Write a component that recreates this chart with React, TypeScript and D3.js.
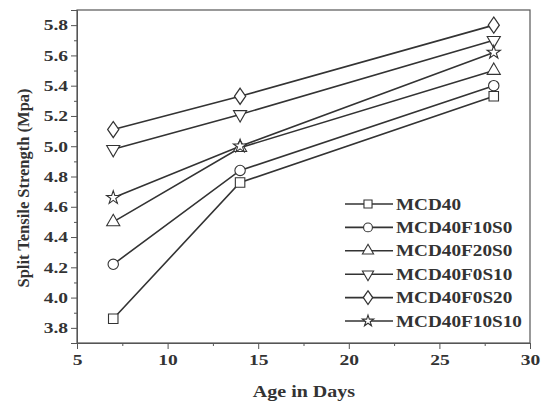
import React, { useEffect, useRef } from 'react';
import * as d3 from 'd3';

const days = [7, 14, 28];
const seriesNames = ['MCD40', 'MCD40F10S0', 'MCD40F20S0', 'MCD40F0S10', 'MCD40F0S20', 'MCD40F10S10'];
const mcd40 = [3.86, 4.76, 5.33];
const mcd40f10s0 = [4.22, 4.84, 5.4];
const mcd40f20s0 = [4.5, 4.99, 5.5];
const mcd40f0s10 = [4.98, 5.21, 5.7];
const mcd40f0s20 = [5.11, 5.33, 5.8];
const mcd40f10s10 = [4.66, 5.0, 5.62];
const xTicks = [5, 10, 15, 20, 25, 30];
const yTicks = [3.8, 4.0, 4.2, 4.4, 4.6, 4.8, 5.0, 5.2, 5.4, 5.6, 5.8];

const seriesValues = [mcd40, mcd40f10s0, mcd40f20s0, mcd40f0s10, mcd40f0s20, mcd40f10s10];
const markerTypes = ['square', 'circle', 'up', 'down', 'diamond', 'star'];

function App() {
  const ref = useRef<SVGSVGElement>(null);

  useEffect(() => {
    const W = 541, H = 406;
    const margin = { top: 10, right: 11, bottom: 63, left: 77 };
    const width = W - margin.left - margin.right;
    const height = H - margin.top - margin.bottom;
    const ink = '#333';
    const font = '"Liberation Serif", "Times New Roman", serif';

    const svg = d3.select(ref.current);
    svg.selectAll('*').remove();
    const g = svg.append('g').attr('transform', `translate(${margin.left},${margin.top})`);

    // the source picture is wider than its type: stretch text horizontally
    const stretch = (sel: any, k: number) => sel.each(function (this: SVGTextElement) {
      const len = this.getComputedTextLength();
      d3.select(this).attr('textLength', len * k).attr('lengthAdjust', 'spacingAndGlyphs');
    });

    const x = d3.scaleLinear().domain([5, 30]).range([0, width]);
    const y = d3.scaleLinear().domain([3.7, 5.9]).range([height, 0]);

    // frame
    g.append('rect').attr('width', width).attr('height', height)
      .attr('fill', 'none').attr('stroke', '#555').attr('stroke-width', 1.2);

    // x axis
    const xa = g.append('g').attr('transform', `translate(0,${height})`)
      .call(d3.axisBottom(x).tickValues(xTicks).tickSize(6).tickPadding(5).tickFormat(d3.format('d')));
    g.append('g').attr('transform', `translate(0,${height})`)
      .call(d3.axisBottom(x).tickValues([7.5, 12.5, 17.5, 22.5, 27.5]).tickSize(3).tickFormat(() => ''))
      .call(a => a.select('.domain').remove());

    // y axis
    const ya = g.append('g')
      .call(d3.axisLeft(y).tickValues(yTicks).tickSize(6).tickPadding(3).tickFormat(d3.format('.1f')));
    g.append('g')
      .call(d3.axisLeft(y).tickValues(d3.range(3.7, 5.95, 0.2)).tickSize(3).tickFormat(() => ''))
      .call(a => a.select('.domain').remove());

    g.selectAll('.tick line').attr('stroke', '#555');
    g.selectAll('.domain').attr('stroke', '#555');
    [xa, ya].forEach(a => {
      const t = a.selectAll('text')
        .attr('font-family', font).attr('font-weight', 'bold').attr('font-size', 15).attr('fill', ink);
      stretch(t, 1.3);
    });

    // axis titles
    const xt = g.append('text').attr('x', 304 - margin.left).attr('y', height + 54).attr('text-anchor', 'middle')
      .attr('font-family', font).attr('font-weight', 'bold').attr('font-size', 16).attr('fill', ink)
      .text('Age in Days');
    stretch(xt, 1.25);
    g.append('text').attr('transform', `translate(-48,${188 - margin.top}) rotate(-90)`).attr('text-anchor', 'middle')
      .attr('font-family', font).attr('font-weight', 'bold').attr('font-size', 16.5).attr('fill', ink)
      .text('Split Tensile Strength (Mpa)');

    const symbolFor = (t: string) => {
      switch (t) {
        case 'square': return d3.symbol(d3.symbolSquare, 90);
        case 'circle': return d3.symbol(d3.symbolCircle, 85);
        case 'up': return d3.symbol(d3.symbolTriangle, 75);
        case 'down': return d3.symbol(d3.symbolTriangle, 75);
        case 'diamond': return d3.symbol(d3.symbolDiamond, 75);
        default: return d3.symbol(d3.symbolStar, 55);
      }
    };
    const drawMarker = (sel: any, t: string, cx: number, cy: number, s = 1) => {
      sel.append('path').attr('d', symbolFor(t)())
        .attr('transform', `translate(${cx},${cy}) scale(${t === 'diamond' ? s * 1.2 : s},${s})${t === 'down' ? ' rotate(180)' : ''}`)
        .attr('fill', 'white').attr('stroke', ink).attr('stroke-width', 1.1 / s);
    };

    const line = d3.line<number>().x((_, i) => x(days[i])).y(d => y(d));
    seriesValues.forEach(vals => {
      g.append('path').datum(vals).attr('d', line).attr('fill', 'none')
        .attr('stroke', ink).attr('stroke-width', 1.6);
    });
    seriesValues.forEach((vals, si) => {
      vals.forEach((v, i) => drawMarker(g, markerTypes[si], x(days[i]), y(v)));
    });

    // legend
    const lg = g.append('g').attr('transform', `translate(${345 - margin.left},${204 - margin.top})`);
    seriesNames.forEach((name, i) => {
      const row = lg.append('g').attr('transform', `translate(0,${i * 23.4})`);
      row.append('line').attr('x1', 0).attr('x2', 48).attr('stroke', ink).attr('stroke-width', 1.6);
      drawMarker(row, markerTypes[i], 23, 0, 0.85);
      const t = row.append('text').attr('x', 51).attr('y', 5.5).attr('font-family', font).attr('font-weight', 'bold')
        .attr('font-size', 16).attr('fill', ink).text(name);
      stretch(t, 1.2);
    });
  }, []);

  return (
    <div style={{ position: 'absolute', left: 0, top: 0 }}>
      <svg ref={ref} width={541} height={406} style={{ display: 'block', background: 'white' }}></svg>
    </div>
  );
}

export default App;
